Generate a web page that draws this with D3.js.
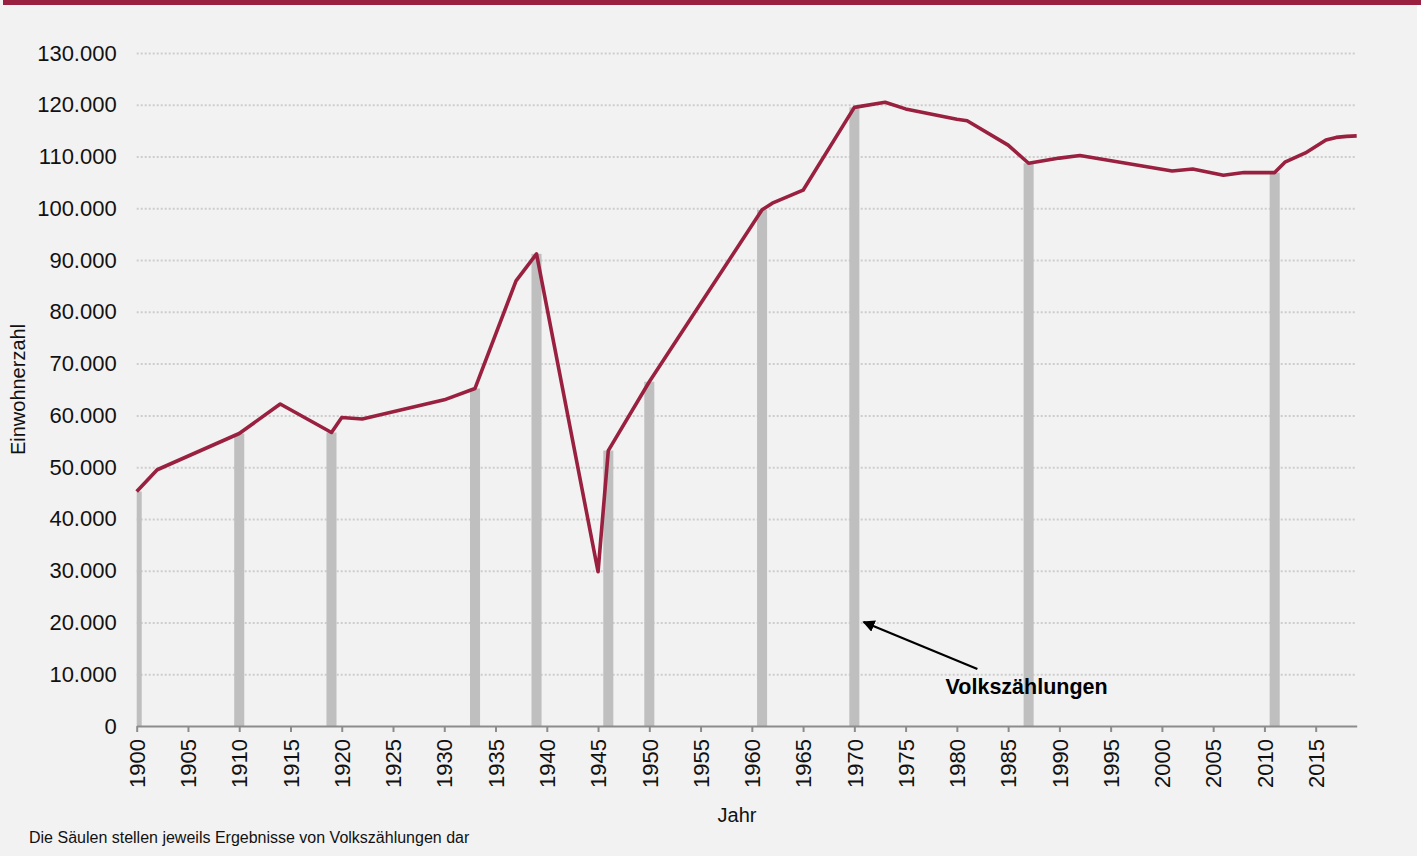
<!DOCTYPE html>
<html lang="de">
<head>
<meta charset="utf-8">
<script src="https://cdn.jsdelivr.net/npm/d3@7"></script>
<style>
  body { margin: 0; background: #fff; }
  svg { display: block; font-family: "Liberation Sans", Arial, sans-serif; }
</style>
</head>
<body>
<script>
// Einwohnerzahl per year (line)
const years = [1900, 1902, 1910, 1914, 1919, 1920, 1922, 1930, 1933, 1937, 1939, 1945, 1946, 1950,
  1961, 1962, 1965, 1970, 1973, 1975, 1980, 1981, 1985, 1987, 1990, 1992, 2001, 2003, 2006, 2008,
  2011, 2012, 2014, 2016, 2017, 2018, 2019];
const population = [45300, 49500, 56500, 62200, 56700, 59600, 59300, 63000, 65200, 86000, 91200, 29800, 53200, 66500,
  99700, 101000, 103500, 119500, 120500, 119200, 117200, 116900, 112200, 108700, 109700, 110200, 107200, 107600, 106400, 106900,
  106900, 108900, 110700, 113200, 113700, 113900, 114000];

// Volkszählungen (bars)
const censusYears = [1900, 1910, 1919, 1933, 1939, 1946, 1950, 1961, 1970, 1987, 2011];
const censusValues = [45300, 56500, 56700, 65200, 91200, 53200, 66500, 99700, 119500, 108700, 106900];

const xTicks = d3.range(1900, 2016, 5);
const yTicks = d3.range(0, 130001, 10000);

const annotation = { text: "Volkszählungen", tip: [1970.9, 20100], tail: [1982, 11000], label: [1978.9, 6100] };

const width = 1421, height = 856;
const margin = { left: 136.7, right: 1356.7, top: 53, bottom: 726 };

const de = d3.formatLocale({ decimal: ",", thousands: ".", grouping: [3], currency: ["", " €"] });
const fmt = de.format(",");

const x = d3.scaleLinear().domain([1900, 2019]).range([margin.left, margin.right]);
const y = d3.scaleLinear().domain([0, 130000]).range([margin.bottom, margin.top]);

const svg = d3.select("body").append("svg")
  .attr("width", width)
  .attr("height", height);

svg.append("rect").attr("width", 1417).attr("height", height).attr("fill", "#f2f2f2");
svg.append("rect").attr("x", 3).attr("width", width - 3).attr("height", 5).attr("fill", "#99213f");

svg.append("clipPath").attr("id", "plot")
  .append("rect")
  .attr("x", margin.left).attr("y", 0)
  .attr("width", margin.right - margin.left).attr("height", margin.bottom);

// y axis with dotted gridlines
const yAxis = svg.append("g")
  .attr("transform", `translate(${margin.left},0)`)
  .call(d3.axisLeft(y).tickValues(yTicks).tickFormat(fmt)
    .tickSizeInner(-(margin.right - margin.left)).tickSizeOuter(0).tickPadding(20));
yAxis.select(".domain").remove();
yAxis.selectAll(".tick line")
  .attr("stroke", "#cdcdcd")
  .attr("stroke-width", 2)
  .attr("stroke-dasharray", "2,2")
  .filter((d) => d === 0).remove();
yAxis.selectAll(".tick text")
  .attr("fill", "#111")
  .style("font-size", "22px");

// census bars
const censusData = censusYears.map((yr, i) => ({ year: yr, value: censusValues[i] }));
svg.append("g")
  .attr("clip-path", "url(#plot)")
  .selectAll("rect")
  .data(censusData)
  .join("rect")
  .attr("x", (d) => x(d.year - 0.49))
  .attr("width", (d) => x(d.year + 0.49) - x(d.year - 0.49))
  .attr("y", (d) => y(d.value))
  .attr("height", (d) => y(0) - y(d.value))
  .attr("fill", "#bfbfbf");

// x axis
const xAxis = svg.append("g")
  .attr("transform", `translate(0,${margin.bottom})`)
  .call(d3.axisBottom(x).tickValues(xTicks).tickFormat(d3.format("d"))
    .tickSizeInner(6).tickSizeOuter(0).tickPadding(4));
xAxis.select(".domain").attr("stroke", "#8c8c8c").attr("stroke-width", 2);
xAxis.selectAll(".tick line").attr("stroke", "#8c8c8c").attr("stroke-width", 2);
xAxis.selectAll(".tick text")
  .attr("fill", "#111")
  .style("font-size", "22px")
  .attr("text-anchor", "end")
  .attr("transform", "rotate(-90)")
  .attr("x", -13)
  .attr("y", 0)
  .attr("dy", "0.35em");

// population line
const lineData = years.map((yr, i) => ({ year: yr, value: population[i] }));
svg.append("path")
  .datum(lineData)
  .attr("fill", "none")
  .attr("stroke", "#99213f")
  .attr("stroke-width", 3.6)
  .attr("stroke-linejoin", "round")
  .attr("d", d3.line().x((d) => x(d.year)).y((d) => y(d.value)));

// axis titles
svg.append("text")
  .attr("x", 737)
  .attr("y", 821.5)
  .attr("text-anchor", "middle")
  .attr("fill", "#111")
  .style("font-size", "20px")
  .text("Jahr");

svg.append("text")
  .attr("transform", `translate(25,${(margin.top + margin.bottom) / 2}) rotate(-90)`)
  .attr("text-anchor", "middle")
  .attr("fill", "#111")
  .style("font-size", "20px")
  .text("Einwohnerzahl");

// annotation
svg.append("defs").append("marker")
  .attr("id", "arrow")
  .attr("viewBox", "0 0 10 10")
  .attr("refX", 9).attr("refY", 5)
  .attr("markerWidth", 5.5).attr("markerHeight", 5.5)
  .attr("markerUnits", "strokeWidth")
  .attr("orient", "auto")
  .append("path")
  .attr("d", "M0,0L10,5L0,10z")
  .attr("fill", "#000");

svg.append("line")
  .attr("x1", x(annotation.tail[0])).attr("y1", y(annotation.tail[1]))
  .attr("x2", x(annotation.tip[0])).attr("y2", y(annotation.tip[1]))
  .attr("stroke", "#000")
  .attr("stroke-width", 2.2)
  .attr("marker-end", "url(#arrow)");

svg.append("text")
  .attr("x", x(annotation.label[0]))
  .attr("y", y(annotation.label[1]))
  .attr("fill", "#000")
  .style("font-size", "21.5px")
  .style("font-weight", "bold")
  .text(annotation.text);

// footnote
svg.append("text")
  .attr("x", 29)
  .attr("y", 843)
  .attr("fill", "#111")
  .style("font-size", "16px")
  .text("Die Säulen stellen jeweils Ergebnisse von Volkszählungen dar");
</script>
</body>
</html>
